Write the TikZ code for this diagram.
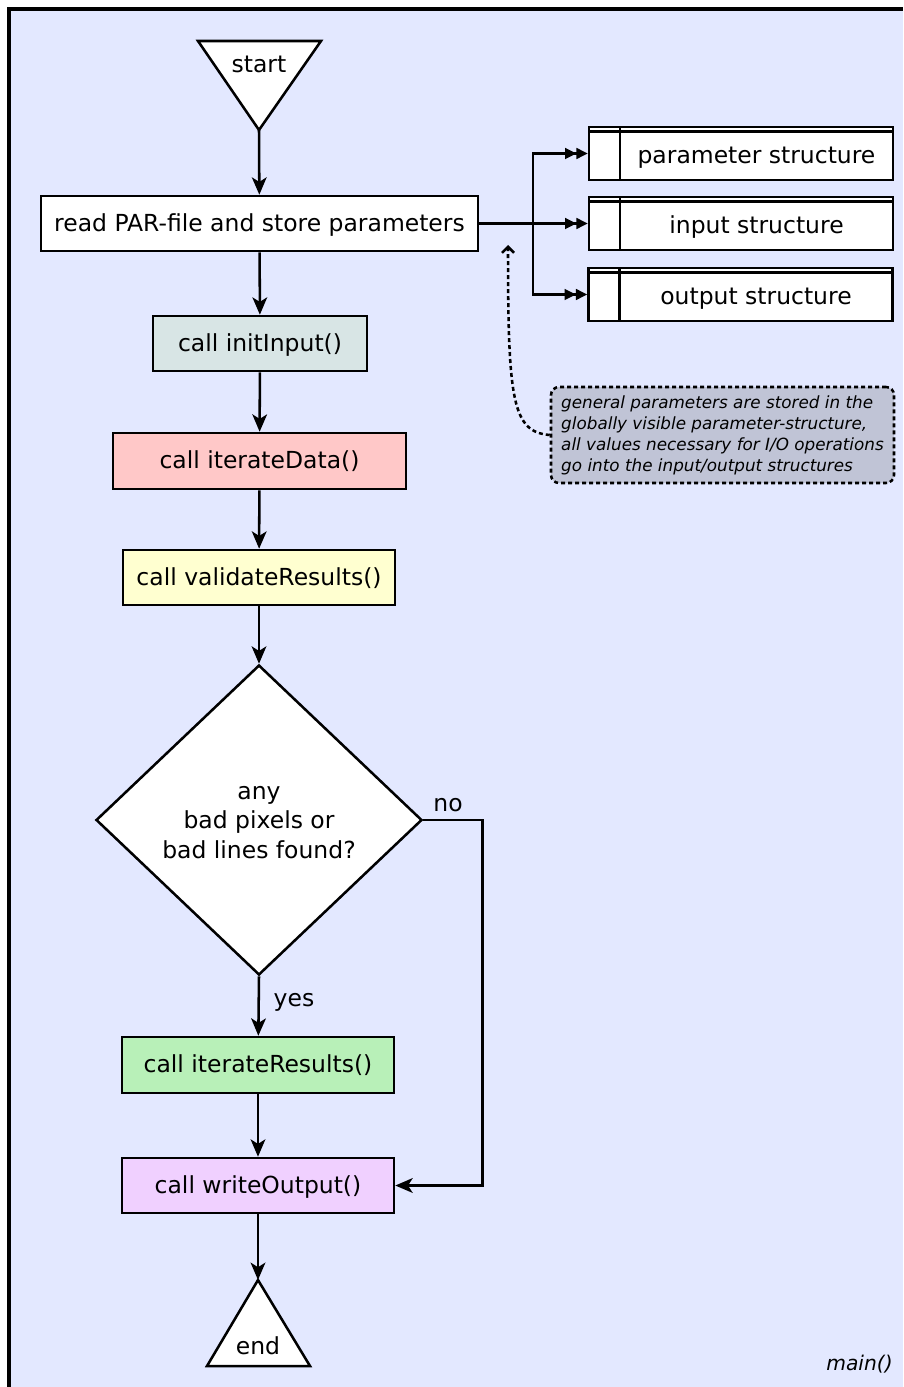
\documentclass[tikz,border=0pt]{standalone}
\usepackage{fontspec}
\setmainfont{DejaVu Sans}
\usetikzlibrary{shapes.geometric,arrows.meta}
\newdimen\pxu \pxu=0.75pt
\definecolor{bgblue}{HTML}{E3E8FF}
\definecolor{initcol}{HTML}{D8E5E5}
\definecolor{itercol}{HTML}{FFC8C8}
\definecolor{validcol}{HTML}{FFFFD0}
\definecolor{rescol}{HTML}{B8F0B8}
\definecolor{outcol}{HTML}{F0D0FF}
\definecolor{notecol}{HTML}{C0C4D6}
\tikzset{
  lw/.style={line width=1.9pt},
  txt/.style={font=\fontsize{17.6}{22}\selectfont},
  procbox/.style={txt, draw, lw, rectangle, inner sep=0pt,
    minimum height=55\pxu, fill=white, text height=16pt, text depth=4.2pt},
  structbox/.style={procbox, minimum width=304\pxu, minimum height=53\pxu,
    text height=19pt, text depth=4.4pt,
    path picture={
      \draw[lw]
        ([xshift=31\pxu]path picture bounding box.north west) --
        ([xshift=31\pxu]path picture bounding box.south west);
      \draw[lw]
        ([yshift=-4.5\pxu]path picture bounding box.north west) --
        ([yshift=-4.5\pxu]path picture bounding box.north east);
    }},
  flow/.style={lw, -{Stealth[length=13pt,width=11pt,inset=3.4pt]}},
  dbl/.style={lw,
    -{Triangle[length=8.5pt,width=8pt]Triangle[length=8.5pt,width=8pt]}},
  term/.style={draw, lw, fill=white, line join=miter},
  notebox/.style={draw, lw, dash pattern=on 3pt off 2.25pt,
    rounded corners=6pt, fill=notecol, inner sep=0pt,
    font=\fontsize{12.6}{15.75}\selectfont\itshape, align=left},
}
\begin{document}
\begin{tikzpicture}[x=0.75pt,y=-0.75pt]
  \useasboundingbox (0,0) rectangle (903,1387);
  % frame
  \fill[bgblue] (9,9) rectangle (903,1387);
  \draw[line width=3pt] (9,1387) -- (9,9) -- (903,9);

  % terminals
  \draw[term] (198,41) -- (321,41) -- (259,130) -- cycle;
  \coordinate (starttip) at (259,130);
  \node[txt] (start) at (259,64) {start};

  \draw[term] (207,1366) -- (310,1366) -- (258,1280) -- cycle;
  \coordinate (endtip) at (258,1280);
  \node[txt] (end) at (258,1345.5) {end};

  % process boxes
  \node[procbox, minimum width=437\pxu] (read) at (259.5,223.5)
    {read PAR-file and store parameters};
  \node[procbox, minimum width=214\pxu, fill=initcol] (init) at (260,343.5)
    {call initInput()};
  \node[procbox, minimum width=293\pxu, minimum height=56\pxu, fill=itercol]
    (iter) at (259.5,461) {call iterateData()};
  \node[procbox, minimum width=272\pxu, fill=validcol] (valid) at (259,577.5)
    {call validateResults()};
  \node[diamond, draw, lw, fill=white, inner sep=0pt,
    minimum width=326\pxu, minimum height=310\pxu] (check) at (259,820) {};
  \node[txt, align=center] (checktext) at (259,822.5)
    {any\\bad pixels or\\bad lines found?};
  \node[procbox, minimum width=272\pxu, minimum height=56\pxu, fill=rescol]
    (ires) at (258,1065) {call iterateResults()};
  \node[procbox, minimum width=272\pxu, fill=outcol] (write) at (258,1185.5)
    {call writeOutput()};

  % data structures
  \node[structbox] (param) at (741,153.5) {\hspace*{31\pxu}parameter structure};
  \node[structbox] (input) at (741,223.5) {\hspace*{31\pxu}input structure};
  \node[structbox] (output) at (740.5,294.5) {\hspace*{31\pxu}output structure};

  % note
  \node[notebox, minimum width=343\pxu, minimum height=96\pxu] (note) at (722.5,435)
    {general parameters are stored in the\\
     globally visible parameter-structure,\\
     all values necessary for I/O operations\\
     go into the input/output structures};

  % flow
  \draw[flow] (starttip) -- (read);
  \draw[flow] (read) -- (init);
  \draw[flow] (init) -- (iter);
  \draw[flow] (iter) -- (valid);
  \draw[flow] (valid) -- (check.north);
  \draw[flow] (check.south) -- (ires);
  \draw[flow] (ires) -- (write);
  \draw[flow] (write) -- (endtip);
  \draw[flow] (check.east) -- ++(59,0) |- (write.east);
  \node[txt] (yes) at (294,1002) {yes};
  \node[txt] (no) at (448,805) {no};

  % distribution to the structures
  \coordinate (split) at (533,223.5);
  \draw[dbl] (read.east) -- (input.west);
  \draw[dbl] (split) |- (param.west);
  \draw[dbl] (split) |- (output.west);

  % note pointer
  \draw[lw, dash pattern=on 3pt off 2.25pt,
    -{Straight Barb[length=4.5pt,width=9pt]}]
    (note.west) .. controls (512,432) and (508,400) .. (508,245);

  \node[font=\fontsize{15.2}{18}\selectfont\itshape, anchor=east, inner sep=0pt]
    (fname) at (893,1364) {main()};
\end{tikzpicture}
\end{document}
